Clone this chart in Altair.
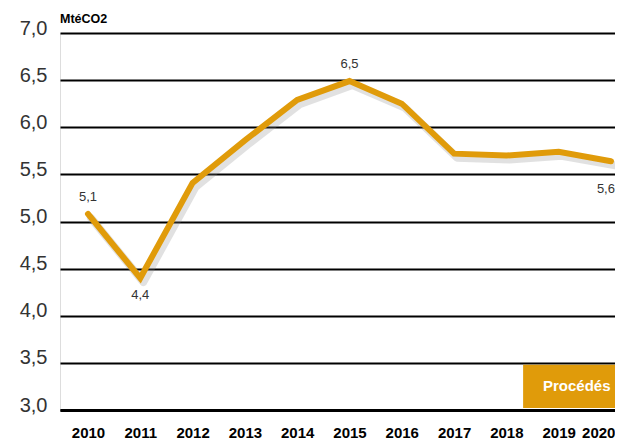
import altair as alt
import pandas as pd

years = [2010, 2011, 2012, 2013, 2014, 2015, 2016, 2017, 2018, 2019, 2020]
values = [5.08, 4.40, 5.41, 5.86, 6.29, 6.49, 6.25, 5.72, 5.70, 5.74, 5.64]

label_years_above = [2010, 2015]
label_years_below = [2011]
label_years_far_below = [2020]
label_texts = {2010: "5,1", 2011: "4,4", 2015: "6,5", 2020: "5,6"}

y_ticks = [3.0, 3.5, 4.0, 4.5, 5.0, 5.5, 6.0, 6.5, 7.0]

box_x = [2018.32]
box_x2 = [2020.6]
box_y = [3.02]
box_y2 = [3.48]
box_text = ["Procédés"]
box_text_x = [2018.70]
box_text_y = [3.25]

unit_title = ["MtéCO2"]

ORANGE = "#E09B0A"
FONT = "Liberation Sans"

df = pd.DataFrame({"year": years, "value": values})
df["label"] = [label_texts.get(y, "") for y in years]

xscale = alt.Scale(domain=[2009.465, 2020.077], nice=False, zero=False)
yscale = alt.Scale(domain=[3.0, 7.0], nice=False, zero=False)

last_year = years[-1]

x_axis = alt.Axis(
    values=years, format="d", title=None, ticks=False, grid=False,
    domain=True, domainColor="black", domainWidth=3,
    labelFont=FONT, labelFontSize=15, labelFontWeight="bold", labelColor="black",
    labelPadding=15,
    labelAlign={"condition": {"test": f"datum.value == {last_year}", "value": "right"}, "value": "center"},
    labelOffset={"condition": {"test": f"datum.value == {last_year}", "value": 4}, "value": 0},
)
y_axis = alt.Axis(
    values=y_ticks, title=None, ticks=False, domain=False,
    grid=True, gridColor="black", gridWidth=2, gridOpacity=1,
    labelExpr="replace(format(datum.value, '.1f'), '.', ',')",
    labelFont=FONT, labelFontSize=20, labelColor="#333333",
    labelPadding=13, labelBaseline="alphabetic", labelOffset=1,
)

base = alt.Chart(df)

grid = base.mark_line(opacity=0).encode(
    x=alt.X("year:Q", scale=xscale, axis=x_axis),
    y=alt.Y("value:Q", scale=yscale, axis=y_axis),
)

box_df = pd.DataFrame({"x": box_x, "x2": box_x2, "y": box_y, "y2": box_y2})
box = alt.Chart(box_df).mark_rect(color=ORANGE).encode(
    x=alt.X("x:Q", scale=xscale), x2="x2:Q",
    y=alt.Y("y:Q", scale=yscale), y2="y2:Q",
)
box_t_df = pd.DataFrame({"x": box_text_x, "y": box_text_y, "t": box_text})
box_t = alt.Chart(box_t_df).mark_text(
    color="white", font=FONT, fontSize=15, fontWeight="bold",
    align="left", baseline="middle",
).encode(x=alt.X("x:Q", scale=xscale), y=alt.Y("y:Q", scale=yscale), text="t:N")

title_df = pd.DataFrame({"t": unit_title})
title = alt.Chart(title_df).mark_text(
    font=FONT, fontSize=12.5, fontWeight="bold", color="black",
    align="left", baseline="alphabetic",
).encode(x=alt.value(0), y=alt.value(-10), text="t:N")

shadow = base.mark_line(
    color="#888888", opacity=0.25, strokeWidth=8, xOffset=3, yOffset=4,
    strokeCap="round", strokeJoin="round",
).encode(x=alt.X("year:Q", scale=xscale), y=alt.Y("value:Q", scale=yscale))

line = base.mark_line(
    color=ORANGE, strokeWidth=6, strokeCap="round", strokeJoin="miter",
).encode(x=alt.X("year:Q", scale=xscale), y=alt.Y("value:Q", scale=yscale))

def labels(yrs, dy, align="center", dx=0):
    return base.transform_filter(
        alt.FieldOneOfPredicate(field="year", oneOf=yrs)
    ).mark_text(
        font=FONT, fontSize=13, color="#333333", dy=dy, dx=dx,
        baseline="middle", align=align,
    ).encode(
        x=alt.X("year:Q", scale=xscale), y=alt.Y("value:Q", scale=yscale),
        text="label:N",
    )

chart = alt.layer(
    grid, box, box_t, shadow, line, title,
    labels(label_years_above, -17),
    labels(label_years_below, 17),
    labels(label_years_far_below, 28, align="right", dx=4),
).properties(
    width=555, height=377,
    autosize=alt.AutoSizeParams(type="none"),
    padding={"left": 52, "top": 25, "right": 0, "bottom": 30},
).configure_view(stroke=None, clip=False).configure(background="white")

chart.save("out.html", embed_options={"renderer": "svg", "actions": False})
